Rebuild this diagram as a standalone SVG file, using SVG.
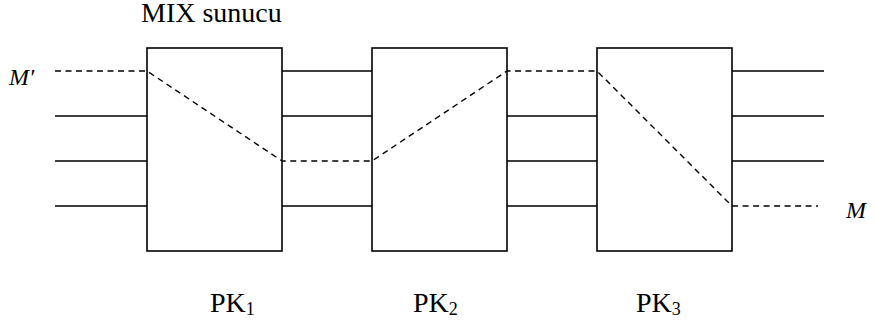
<svg xmlns="http://www.w3.org/2000/svg" width="875" height="324" viewBox="0 0 875 324">
<style>
.box{fill:#fff;stroke:#000;stroke-width:1.6}
.ln{stroke:#000;stroke-width:1.4;fill:none}
.ds{stroke:#000;stroke-width:1.4;fill:none;stroke-dasharray:6 4.5}
text{font-family:"Times New Roman","Liberation Serif","DejaVu Serif",serif;fill:#000}
</style>
<rect width="875" height="324" fill="#fff"/>
<g id="connectors">
<path class="ln" d="M55 116H147M55 161H147M55 206H147"/>
<path class="ln" d="M282 71H372M282 116H372M282 206H372"/>
<path class="ln" d="M507 116H597M507 161H597M507 206H597"/>
<path class="ln" d="M732 71H824M732 116H824M732 161H824"/>
</g>
<g id="pk1"><rect class="box" x="147" y="48" width="135" height="203"/></g>
<g id="pk2"><rect class="box" x="372" y="48" width="135" height="203"/></g>
<g id="pk3"><rect class="box" x="597" y="48" width="135" height="203"/></g>
<g id="path">
<path class="ds" d="M55 71H147L282 161H372L507 71H597L732 206H818"/>
</g>
<g id="labels">
<text x="141" y="22" font-size="28">MIX sunucu</text>
<text x="9" y="85" font-size="24" font-style="italic">M′</text>
<text x="846" y="218" font-size="24" font-style="italic">M</text>
<text x="210" y="312" font-size="28">PK<tspan font-size="18" dy="3">1</tspan></text>
<text x="413" y="312" font-size="28">PK<tspan font-size="18" dy="3">2</tspan></text>
<text x="636" y="312" font-size="28">PK<tspan font-size="18" dy="3">3</tspan></text>
</g>
</svg>
